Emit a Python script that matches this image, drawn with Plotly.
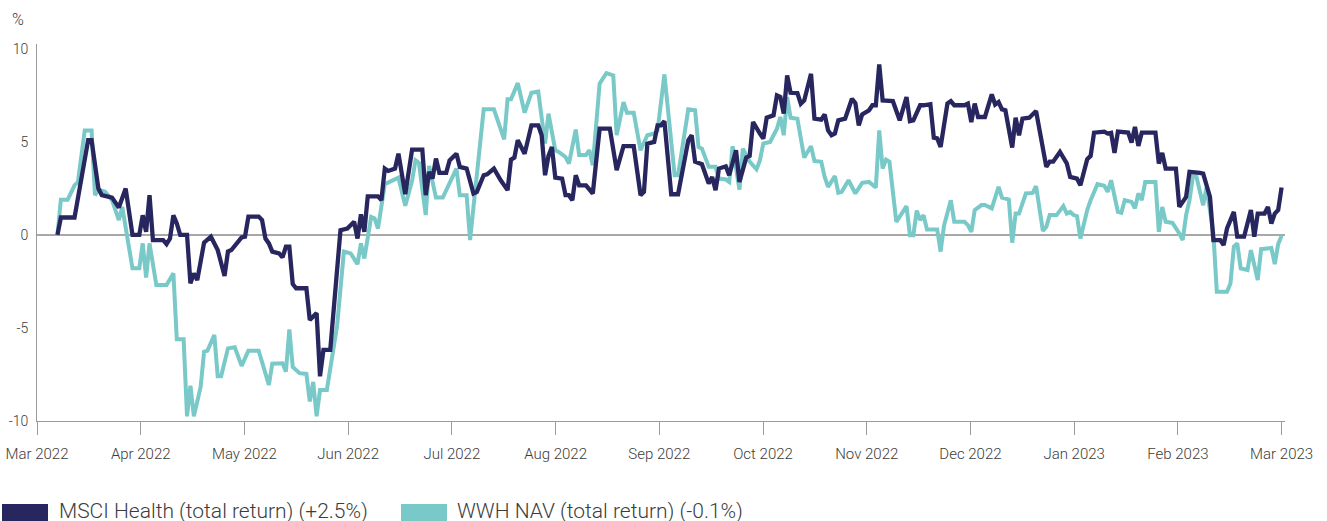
import plotly.graph_objects as go
import pandas as pd

# ---------------- data ----------------
msci_dates = [
    "2022-03-07", "2022-03-08", "2022-03-12", "2022-03-16", "2022-03-17", "2022-03-19", "2022-03-20",
    "2022-03-23", "2022-03-25", "2022-03-27", "2022-03-29", "2022-03-31", "2022-04-01", "2022-04-02",
    "2022-04-03", "2022-04-04", "2022-04-07", "2022-04-08", "2022-04-09", "2022-04-10", "2022-04-11",
    "2022-04-12", "2022-04-14", "2022-04-15", "2022-04-16", "2022-04-17", "2022-04-19", "2022-04-21",
    "2022-04-23", "2022-04-25", "2022-04-26", "2022-04-27", "2022-04-30", "2022-05-01", "2022-05-02",
    "2022-05-05", "2022-05-06", "2022-05-07", "2022-05-08", "2022-05-09", "2022-05-11", "2022-05-12",
    "2022-05-13", "2022-05-14", "2022-05-15", "2022-05-16", "2022-05-19", "2022-05-20", "2022-05-21",
    "2022-05-22", "2022-05-23", "2022-05-24", "2022-05-26", "2022-05-29", "2022-05-31", "2022-06-02",
    "2022-06-03", "2022-06-04", "2022-06-05", "2022-06-06", "2022-06-09", "2022-06-10", "2022-06-11",
    "2022-06-12", "2022-06-14", "2022-06-15", "2022-06-17", "2022-06-19", "2022-06-22", "2022-06-23",
    "2022-06-24", "2022-06-25", "2022-06-26", "2022-06-27", "2022-06-29", "2022-06-30", "2022-07-02",
    "2022-07-03", "2022-07-05", "2022-07-07", "2022-07-08", "2022-07-09", "2022-07-10", "2022-07-11",
    "2022-07-13", "2022-07-15", "2022-07-17", "2022-07-18", "2022-07-19", "2022-07-20", "2022-07-21",
    "2022-07-22", "2022-07-24", "2022-07-26", "2022-07-27", "2022-07-28", "2022-07-29", "2022-07-30",
    "2022-07-31", "2022-08-02", "2022-08-03", "2022-08-04", "2022-08-05", "2022-08-06", "2022-08-07",
    "2022-08-09", "2022-08-11", "2022-08-13", "2022-08-16", "2022-08-17", "2022-08-18", "2022-08-20",
    "2022-08-23", "2022-08-25", "2022-08-26", "2022-08-27", "2022-08-29", "2022-08-30", "2022-08-31",
    "2022-09-01", "2022-09-03", "2022-09-05", "2022-09-08", "2022-09-09", "2022-09-10", "2022-09-12",
    "2022-09-14", "2022-09-15", "2022-09-16", "2022-09-17", "2022-09-19", "2022-09-20", "2022-09-22",
    "2022-09-23", "2022-09-25", "2022-09-26", "2022-09-27", "2022-09-29", "2022-09-30", "2022-10-01",
    "2022-10-03", "2022-10-04", "2022-10-05", "2022-10-06", "2022-10-07", "2022-10-08", "2022-10-10",
    "2022-10-11", "2022-10-12", "2022-10-14", "2022-10-15", "2022-10-17", "2022-10-18", "2022-10-19",
    "2022-10-20", "2022-10-21", "2022-10-22", "2022-10-24", "2022-10-26", "2022-10-27", "2022-10-28",
    "2022-10-29", "2022-10-31", "2022-11-01", "2022-11-02", "2022-11-03", "2022-11-04", "2022-11-07",
    "2022-11-09", "2022-11-11", "2022-11-12", "2022-11-13", "2022-11-15", "2022-11-16", "2022-11-18",
    "2022-11-19", "2022-11-20", "2022-11-21", "2022-11-23", "2022-11-24", "2022-11-25", "2022-11-28",
    "2022-11-29", "2022-11-30", "2022-12-01", "2022-12-02", "2022-12-04", "2022-12-06", "2022-12-07",
    "2022-12-08", "2022-12-09", "2022-12-10", "2022-12-12", "2022-12-13", "2022-12-14", "2022-12-15",
    "2022-12-17", "2022-12-19", "2022-12-22", "2022-12-23", "2022-12-24", "2022-12-26", "2022-12-28",
    "2022-12-29", "2022-12-31", "2023-01-01", "2023-01-03", "2023-01-04", "2023-01-05", "2023-01-08",
    "2023-01-09", "2023-01-10", "2023-01-11", "2023-01-12", "2023-01-15", "2023-01-16", "2023-01-17",
    "2023-01-18", "2023-01-19", "2023-01-23", "2023-01-24", "2023-01-25", "2023-01-26", "2023-01-29",
    "2023-01-30", "2023-02-01", "2023-02-02", "2023-02-05", "2023-02-06", "2023-02-08", "2023-02-09",
    "2023-02-11", "2023-02-12", "2023-02-13", "2023-02-15", "2023-02-16", "2023-02-18", "2023-02-20",
    "2023-02-21", "2023-02-22", "2023-02-24", "2023-02-25", "2023-02-26", "2023-02-27", "2023-02-28",
    "2023-03-01",
]
msci_values = [
    0.00, 0.93, 0.93, 5.08, 5.08, 2.49, 2.13,
    2.00, 1.47, 2.49, 0.00, 0.00, 1.05, 0.16,
    2.13, -0.28, -0.28, -0.50, -0.20, 1.05, 0.61,
    0.00, 0.00, -2.61, -2.07, -2.43, -0.42, -0.10,
    -0.82, -2.21, -0.90, -0.82, -0.14, -0.10, 0.98,
    0.98, 0.79, -0.20, -0.46, -0.90, -1.00, -1.21,
    -0.64, -0.64, -2.64, -2.87, -2.87, -4.57, -4.39,
    -4.20, -7.60, -6.18, -6.18, 0.25, 0.34, 0.70,
    -0.20, 1.10, 0.16, 2.07, 2.07, 1.86, 3.56,
    3.43, 3.56, 4.36, 2.18, 4.58, 4.58, 2.13,
    3.38, 3.02, 4.10, 3.33, 3.33, 4.00, 4.36,
    3.65, 3.56, 2.22, 2.31, 2.84, 3.20, 3.25,
    3.56, 2.93, 2.40, 4.04, 4.15, 5.08, 4.72,
    4.36, 5.88, 5.88, 5.35, 3.20, 4.24, 4.72,
    3.07, 3.02, 2.13, 2.13, 1.86, 3.20, 2.66,
    2.66, 2.22, 5.70, 5.70, 4.72, 3.48, 4.76,
    4.76, 2.13, 2.31, 4.90, 4.99, 5.88, 5.88,
    6.11, 2.18, 2.18, 5.08, 5.35, 3.93, 3.79,
    2.75, 3.11, 2.40, 3.56, 3.68, 3.20, 4.54,
    2.84, 4.15, 4.24, 6.06, 5.44, 5.17, 6.29,
    6.42, 7.49, 7.40, 6.51, 8.56, 7.63, 7.61,
    7.04, 7.22, 8.65, 6.24, 6.19, 6.47, 5.61,
    5.35, 5.44, 6.15, 6.24, 7.31, 7.08, 5.88,
    6.47, 6.69, 6.96, 6.96, 9.15, 7.22, 7.18,
    6.15, 7.40, 6.11, 6.15, 6.96, 6.96, 7.02,
    5.22, 5.18, 4.72, 7.05, 7.18, 6.96, 6.96,
    7.05, 6.06, 7.05, 6.33, 6.33, 7.54, 7.00,
    7.13, 6.74, 6.69, 4.69, 6.29, 5.35, 6.24,
    6.29, 6.65, 3.65, 3.93, 3.93, 4.45, 3.84,
    3.11, 3.02, 2.66, 4.06, 4.24, 5.49, 5.54,
    5.44, 5.48, 4.40, 5.54, 5.49, 4.96, 5.80,
    4.78, 5.49, 5.49, 3.83, 4.40, 3.56, 3.56,
    1.50, 2.04, 3.38, 3.33, 3.29, 2.04, -0.28,
    -0.28, -0.55, 0.34, 1.23, -0.10, -0.10, 1.33,
    -0.10, 1.14, 1.14, 1.50, 0.61, 1.14, 1.33,
    2.54,
]

wwh_dates = [
    "2022-03-07", "2022-03-08", "2022-03-10", "2022-03-12", "2022-03-13", "2022-03-15", "2022-03-17",
    "2022-03-18", "2022-03-19", "2022-03-21", "2022-03-23", "2022-03-25", "2022-03-26", "2022-03-29",
    "2022-03-31", "2022-04-01", "2022-04-02", "2022-04-03", "2022-04-05", "2022-04-08", "2022-04-10",
    "2022-04-11", "2022-04-13", "2022-04-14", "2022-04-15", "2022-04-16", "2022-04-18", "2022-04-19",
    "2022-04-20", "2022-04-22", "2022-04-23", "2022-04-24", "2022-04-26", "2022-04-28", "2022-04-30",
    "2022-05-02", "2022-05-05", "2022-05-08", "2022-05-09", "2022-05-12", "2022-05-13", "2022-05-14",
    "2022-05-15", "2022-05-17", "2022-05-19", "2022-05-20", "2022-05-21", "2022-05-22", "2022-05-23",
    "2022-05-25", "2022-05-28", "2022-05-30", "2022-06-01", "2022-06-03", "2022-06-04", "2022-06-05",
    "2022-06-07", "2022-06-08", "2022-06-09", "2022-06-11", "2022-06-15", "2022-06-17", "2022-06-19",
    "2022-06-20", "2022-06-21", "2022-06-23", "2022-06-24", "2022-06-26", "2022-06-28", "2022-07-02",
    "2022-07-03", "2022-07-05", "2022-07-06", "2022-07-10", "2022-07-13", "2022-07-16", "2022-07-17",
    "2022-07-18", "2022-07-20", "2022-07-22", "2022-07-24", "2022-07-26", "2022-07-28", "2022-07-29",
    "2022-07-31", "2022-08-01", "2022-08-03", "2022-08-04", "2022-08-06", "2022-08-07", "2022-08-09",
    "2022-08-10", "2022-08-11", "2022-08-13", "2022-08-15", "2022-08-17", "2022-08-18", "2022-08-20",
    "2022-08-21", "2022-08-23", "2022-08-25", "2022-08-27", "2022-08-29", "2022-08-30", "2022-09-01",
    "2022-09-04", "2022-09-05", "2022-09-08", "2022-09-10", "2022-09-11", "2022-09-12", "2022-09-14",
    "2022-09-16", "2022-09-17", "2022-09-19", "2022-09-20", "2022-09-21", "2022-09-23", "2022-09-24",
    "2022-09-26", "2022-09-28", "2022-09-29", "2022-09-30", "2022-10-02", "2022-10-04", "2022-10-05",
    "2022-10-06", "2022-10-07", "2022-10-08", "2022-10-10", "2022-10-12", "2022-10-13", "2022-10-14",
    "2022-10-15", "2022-10-17", "2022-10-18", "2022-10-19", "2022-10-21", "2022-10-22", "2022-10-23",
    "2022-10-25", "2022-10-27", "2022-10-29", "2022-10-31", "2022-11-02", "2022-11-03", "2022-11-04",
    "2022-11-05", "2022-11-06", "2022-11-08", "2022-11-09", "2022-11-11", "2022-11-12", "2022-11-13",
    "2022-11-14", "2022-11-15", "2022-11-16", "2022-11-17", "2022-11-20", "2022-11-21", "2022-11-22",
    "2022-11-24", "2022-11-25", "2022-11-28", "2022-11-29", "2022-11-30", "2022-12-01", "2022-12-03",
    "2022-12-04", "2022-12-06", "2022-12-08", "2022-12-09", "2022-12-11", "2022-12-12", "2022-12-13",
    "2022-12-14", "2022-12-16", "2022-12-18", "2022-12-19", "2022-12-21", "2022-12-22", "2022-12-23",
    "2022-12-25", "2022-12-27", "2022-12-28", "2022-12-29", "2022-12-30", "2022-12-31", "2023-01-01",
    "2023-01-03", "2023-01-04", "2023-01-06", "2023-01-08", "2023-01-09", "2023-01-10", "2023-01-12",
    "2023-01-13", "2023-01-14", "2023-01-16", "2023-01-17", "2023-01-18", "2023-01-19", "2023-01-20",
    "2023-01-23", "2023-01-24", "2023-01-25", "2023-01-26", "2023-01-28", "2023-01-30", "2023-01-31",
    "2023-02-01", "2023-02-02", "2023-02-03", "2023-02-04", "2023-02-06", "2023-02-07", "2023-02-09",
    "2023-02-10", "2023-02-13", "2023-02-14", "2023-02-15", "2023-02-16", "2023-02-17", "2023-02-19",
    "2023-02-20", "2023-02-22", "2023-02-23", "2023-02-26", "2023-02-27", "2023-02-28", "2023-03-01",
]
wwh_values = [
    0.00, 1.89, 1.89, 2.66, 2.84, 5.61, 5.61,
    2.13, 2.43, 2.31, 1.86, 0.79, 1.50, -1.80,
    -1.80, -0.46, -2.29, -0.46, -2.70, -2.70, -2.07,
    -5.61, -5.61, -9.75, -8.10, -9.75, -8.16, -6.28,
    -6.22, -5.38, -7.60, -7.60, -6.10, -6.04, -7.04,
    -6.22, -6.22, -8.06, -6.92, -6.90, -7.35, -5.08,
    -7.10, -7.43, -7.47, -8.95, -7.90, -9.75, -8.33,
    -8.33, -4.90, -0.90, -1.00, -1.57, -0.46, -1.27,
    0.96, 0.88, 0.34, 2.72, 3.07, 1.56, 2.90,
    4.00, 3.86, 1.06, 3.70, 2.00, 2.00, 3.56,
    2.13, 2.13, -0.28, 6.74, 6.74, 5.13, 7.28,
    7.28, 8.15, 6.56, 7.63, 7.69, 4.90, 6.51,
    4.54, 4.45, 4.18, 3.83, 5.65, 4.29, 4.29,
    4.54, 3.74, 8.12, 8.69, 8.56, 5.35, 7.13,
    6.56, 6.56, 4.54, 5.35, 5.44, 5.60, 8.62,
    3.20, 3.20, 6.74, 6.69, 4.72, 4.63, 3.65,
    3.65, 3.02, 2.97, 2.84, 4.76, 2.43, 4.63,
    3.93, 3.52, 4.00, 4.90, 4.99, 5.70, 6.33,
    5.35, 7.40, 6.29, 6.24, 4.15, 4.42, 4.76,
    3.97, 3.92, 3.11, 2.57, 3.15, 2.26, 2.31,
    2.93, 2.22, 2.79, 2.84, 2.54, 5.61, 3.56,
    4.04, 3.93, 0.70, 0.96, 1.54, -0.02, -0.02,
    1.30, 0.79, 1.06, 0.29, 0.29, -0.90, 0.50,
    1.86, 0.70, 0.70, 0.52, 0.16, 1.33, 1.60,
    1.60, 1.42, 2.57, 2.00, 1.90, -0.42, 1.14,
    1.14, 2.22, 2.25, 2.61, 0.21, 0.43, 1.06,
    1.06, 1.54, 1.14, 1.23, 1.06, 1.00, -0.20,
    1.33, 1.86, 2.72, 2.63, 2.31, 2.93, 1.23,
    1.18, 1.86, 1.77, 1.42, 2.22, 1.86, 2.84,
    2.84, 0.16, 1.50, 0.70, 0.64, 0.07, -0.28,
    1.06, 1.86, 3.15, 3.15, 1.59, 2.54, 0.07,
    -3.06, -3.06, -2.61, -0.64, -0.46, -1.80, -1.89,
    -0.82, -2.43, -0.77, -0.71, -1.57, -0.50, -0.05,
]

series_names = ["MSCI Health (total return) (+2.5%)", "WWH NAV (total return) (-0.1%)"]
month_labels = ["Mar 2022", "Apr 2022", "May 2022", "Jun 2022", "Jul 2022", "Aug 2022", "Sep 2022",
                "Oct 2022", "Nov 2022", "Dec 2022", "Jan 2023", "Feb 2023", "Mar 2023"]
y_tick_values = [-10, -5, 0, 5, 10]
y_tick_labels = ["-10", "-5", "0", "5", "10"]
y_unit = "%"

# ---------------- styling ----------------
NAVY = "#28265F"
TEAL = "#78C9C7"
AXIS_GREY = "#9A9A9A"
TEXT = "#3C3C3C"
FONT = "Roboto"
WEIGHT = 300

W, H = 1327, 521
ML, MR, MT, MB = 37, 42, 44, 100
PW, PH = W - ML - MR, H - MT - MB

start = pd.Timestamp("2022-03-01")
end = pd.Timestamp("2023-03-01")
span = (end - start)
tick_vals = [start + span * i / 12 for i in range(13)]

fig = go.Figure()
fig.add_trace(go.Scatter(x=pd.to_datetime(wwh_dates), y=wwh_values, mode="lines",
                         line=dict(color=TEAL, width=4), name=series_names[1],
                         showlegend=False, hoverinfo="skip"))
fig.add_trace(go.Scatter(x=pd.to_datetime(msci_dates), y=msci_values, mode="lines",
                         line=dict(color=NAVY, width=4.3), name=series_names[0],
                         showlegend=False, hoverinfo="skip"))

fig.update_xaxes(
    type="date", automargin=False,
    range=[start, end + pd.Timedelta(days=1)],
    tickmode="array", tickvals=tick_vals, ticktext=month_labels,
    showgrid=False, zeroline=False,
    showline=True, linecolor=AXIS_GREY, linewidth=1,
    ticks="outside", ticklen=13, tickwidth=1, tickcolor=AXIS_GREY,
    tickfont=dict(family=FONT, size=15, color=TEXT, weight=WEIGHT),
    ticklabelstandoff=6,
)
fig.update_yaxes(
    automargin=False,
    range=[-10, 10.25],
    tickmode="array", tickvals=y_tick_values, ticktext=y_tick_labels,
    showgrid=False,
    zeroline=True, zerolinecolor="#A8A8A8", zerolinewidth=2,
    showline=True, linecolor=AXIS_GREY, linewidth=1,
    ticks="", tickfont=dict(family=FONT, size=14, color=TEXT, weight=WEIGHT),
    ticklabelstandoff=5,
)


def px_to_paper(px, py):
    return (px - ML) / PW, (H - MB - py) / PH


annotations = []
shapes = []
# unit label
ux, uy = px_to_paper(18, 20)
annotations.append(dict(x=ux, y=uy, xref="paper", yref="paper", text=y_unit, showarrow=False,
                        xanchor="center", yanchor="middle",
                        font=dict(family=FONT, size=16, color=TEXT, weight=WEIGHT)))

# custom legend (wide rectangular swatches as in the reference)
legend_items = [(series_names[0], NAVY, 2, 57), (series_names[1], TEAL, 401, 455)]
for name, color, sx, tx in legend_items:
    x0, y0 = px_to_paper(sx, 522)
    x1, y1 = px_to_paper(sx + 46, 504)
    shapes.append(dict(type="rect", xref="paper", yref="paper", x0=x0, y0=y0, x1=x1, y1=y1,
                       fillcolor=color, line=dict(width=0), layer="above"))
    ax, ay = px_to_paper(tx, 511)
    annotations.append(dict(x=ax, y=ay, xref="paper", yref="paper", text=name, showarrow=False,
                            xanchor="left", yanchor="middle",
                            font=dict(family=FONT, size=21, color=TEXT, weight=WEIGHT)))

fig.update_layout(
    width=W, height=H,
    margin=dict(l=ML, r=MR, t=MT, b=MB, pad=0, autoexpand=False),
    paper_bgcolor="white", plot_bgcolor="white",
    showlegend=False,
    annotations=annotations, shapes=shapes,
    font=dict(family=FONT, color=TEXT),
)

# remove the page's default body margin so the figure sits at the window's top-left corner
fig.write_html("out.html", config={"displayModeBar": False, "staticPlot": True},
               post_script="document.body.style.margin='0';document.body.style.overflow='hidden';")
